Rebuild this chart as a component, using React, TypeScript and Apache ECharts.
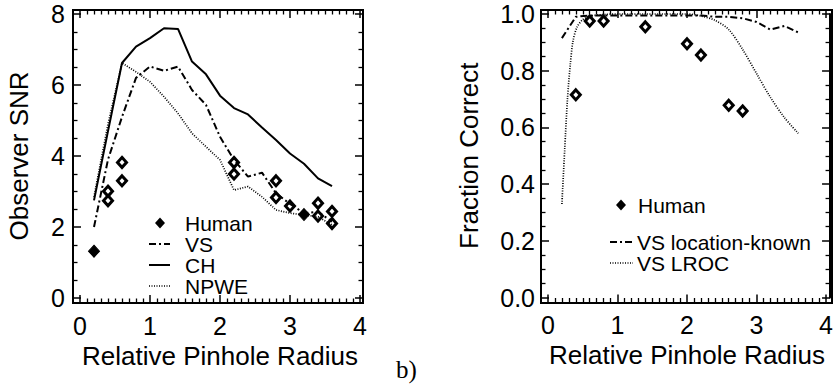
import React, { useEffect, useRef } from "react";
import * as echarts from "echarts";

// ---------- data ----------
const radius = [0.2, 0.4, 0.6, 0.8, 1.0, 1.2, 1.4, 1.6, 1.8, 2.0, 2.2, 2.4, 2.6, 2.8, 3.0, 3.2, 3.4, 3.6];
const snrCH = [2.75, 4.7, 6.62, 7.08, 7.32, 7.6, 7.58, 6.66, 6.3, 5.7, 5.35, 5.17, 4.8, 4.45, 4.07, 3.78, 3.37, 3.15];
const snrVS = [2.0, 3.9, 5.1, 6.2, 6.52, 6.4, 6.52, 5.86, 5.44, 4.54, 3.89, 3.42, 3.53, 2.95, 2.65, 2.39, 2.43, 2.15];
const snrNPWE = [2.85, 4.9, 6.62, 6.37, 6.09, 5.67, 5.2, 4.64, 4.26, 3.89, 3.04, 3.14, 2.85, 2.48, 2.39, 2.34, 2.29, 2.06];

const humanSnrX = [0.4, 0.4, 0.6, 0.6, 2.2, 2.2, 2.8, 2.8, 3.0, 3.4, 3.4, 3.6, 3.6];
const humanSnrY = [3.01, 2.74, 3.82, 3.3, 3.82, 3.49, 3.3, 2.83, 2.59, 2.67, 2.31, 2.44, 2.1];
const humanSnrSolidX = [0.2, 3.2];
const humanSnrSolidY = [1.32, 2.35];

const fcLocKnown = [0.915, 0.99, 0.995, 0.995, 0.995, 0.995, 0.995, 0.995, 0.995, 0.995, 0.995, 0.99, 0.99, 0.985, 0.972, 0.945, 0.958, 0.935];
const lrocX = [0.2, 0.24, 0.28, 0.32, 0.36, 0.42, 0.5, 0.6, 0.8, 1.0, 1.2, 1.4, 1.6, 1.8, 2.0, 2.2, 2.4, 2.6, 2.8, 3.0, 3.2, 3.4, 3.6];
const lrocY = [0.33, 0.52, 0.7, 0.82, 0.905, 0.955, 0.98, 0.992, 0.998, 1.0, 1.0, 1.0, 1.0, 1.0, 1.0, 0.993, 0.978, 0.945, 0.875, 0.79, 0.706, 0.635, 0.579];
const humanFcX = [0.4, 0.6, 0.8, 1.4, 2.0, 2.2, 2.6, 2.8];
const humanFcY = [0.715, 0.975, 0.975, 0.955, 0.895, 0.855, 0.678, 0.658];

const xTicks = [0, 4, 1];
const snrTicks = [0, 8, 2];
const fcTicks = [0, 1, 0.2];

// ---------- styling ----------
const FONT = "'Liberation Sans', Arial, Helvetica, sans-serif";
const DASHDOT = [7, 3, 2, 3];
const DOTTED = [1, 1.5];

const zip = (xs: number[], ys: number[]) => xs.map((x, i) => [x, ys[i]]);

function axisBase(min: number, max: number, interval: number, minorSplit: number) {
  return {
    type: "value",
    min,
    max,
    interval,
    axisLine: { show: true, onZero: false, lineStyle: { color: "#000", width: 2 } },
    axisTick: { show: true, inside: true, length: 8, lineStyle: { color: "#000", width: 1.5 } },
    minorTick: { show: true, splitNumber: minorSplit, length: 4.5, lineStyle: { color: "#000", width: 1.3 } },
    splitLine: { show: false },
    minorSplitLine: { show: false },
  };
}

const labelStyle = { show: true, color: "#000", fontSize: 25, fontFamily: FONT, showMinLabel: true, showMaxLabel: true };
const nameStyle = { color: "#000", fontSize: 26, fontFamily: FONT };

function legendLine(x1: number, x2: number, y: number, dash: any, width: number) {
  return {
    type: "line",
    shape: { x1, y1: y, x2, y2: y },
    style: { stroke: "#000", lineWidth: width, lineDash: dash },
  };
}
function legendDiamond(cx: number, cy: number) {
  return {
    type: "polygon",
    shape: { points: [[cx, cy - 5.5], [cx + 5, cy], [cx, cy + 5.5], [cx - 5, cy]] },
    style: { fill: "#000" },
  };
}
function legendText(x: number, y: number, text: string) {
  return {
    type: "text",
    x,
    y,
    style: { text, fill: "#000", font: `21px ${FONT}`, verticalAlign: "middle", align: "left" },
  };
}

const openDiamond = {
  symbol: "diamond",
  symbolSize: [9, 10],
  itemStyle: { color: "#fff", borderColor: "#000", borderWidth: 3, opacity: 1 },
};

export default function App() {
  const ref = useRef<HTMLDivElement>(null);
  useEffect(() => {
    if (!ref.current) return;
    const chart = echarts.init(ref.current, null, { renderer: "svg" });

    const xBottom = (gi: number) => ({
      ...axisBase(xTicks[0], xTicks[1], xTicks[2], 10),
      gridIndex: gi,
      position: "bottom",
      offset: 5,
      axisLabel: { ...labelStyle, margin: 10 },
      name: "Relative Pinhole Radius",
      nameLocation: "middle",
      nameGap: 38,
      nameTextStyle: nameStyle,
    });
    const xTop = (gi: number) => ({
      ...axisBase(xTicks[0], xTicks[1], xTicks[2], 10),
      gridIndex: gi,
      position: "top",
      offset: 4,
      axisLabel: { show: false },
    });

    const option: any = {
      animation: false,
      grid: [
        { left: 80, top: 14, width: 280, height: 284 },
        { left: 548, top: 14, width: 280, height: 283.5 },
      ],
      xAxis: [xBottom(0), xTop(0), xBottom(1), xTop(1)],
      yAxis: [
        {
          ...axisBase(snrTicks[0], snrTicks[1], snrTicks[2], 4),
          gridIndex: 0,
          position: "left",
          offset: 7,
          axisLabel: { ...labelStyle, margin: 8 },
          name: "Observer SNR",
          nameLocation: "middle",
          nameGap: 41,
          nameTextStyle: nameStyle,
        },
        {
          ...axisBase(snrTicks[0], snrTicks[1], snrTicks[2], 4),
          gridIndex: 0,
          position: "right",
          offset: 3,
          axisLabel: { show: false },
        },
        {
          ...axisBase(fcTicks[0], fcTicks[1], fcTicks[2], 4),
          gridIndex: 1,
          position: "left",
          offset: 7,
          axisLabel: { ...labelStyle, margin: 6, formatter: (v: number) => v.toFixed(1) },
          name: "Fraction Correct",
          nameLocation: "middle",
          nameGap: 59,
          nameTextStyle: nameStyle,
        },
        {
          ...axisBase(fcTicks[0], fcTicks[1], fcTicks[2], 4),
          gridIndex: 1,
          position: "right",
          offset: 4,
          axisLabel: { show: false },
        },
      ],
      series: [
        {
          name: "CH", type: "line", xAxisIndex: 0, yAxisIndex: 0, data: zip(radius, snrCH),
          symbol: "none", lineStyle: { color: "#000", width: 2 }, clip: false,
        },
        {
          name: "VS", type: "line", xAxisIndex: 0, yAxisIndex: 0, data: zip(radius, snrVS),
          symbol: "none", lineStyle: { color: "#000", width: 2, type: DASHDOT }, clip: false,
        },
        {
          name: "NPWE", type: "line", xAxisIndex: 0, yAxisIndex: 0, data: zip(radius, snrNPWE),
          symbol: "none", lineStyle: { color: "#000", width: 1.7, type: DOTTED }, clip: false,
        },
        {
          name: "Human", type: "scatter", xAxisIndex: 0, yAxisIndex: 0, data: zip(humanSnrX, humanSnrY),
          ...openDiamond,
        },
        {
          name: "Human", type: "scatter", xAxisIndex: 0, yAxisIndex: 0, data: zip(humanSnrSolidX, humanSnrSolidY),
          symbol: "diamond", symbolSize: [11, 12],
          itemStyle: { color: "#000", borderColor: "#000", borderWidth: 1, opacity: 1 },
        },
        {
          name: "VS location-known", type: "line", xAxisIndex: 2, yAxisIndex: 2, data: zip(radius, fcLocKnown),
          symbol: "none", lineStyle: { color: "#000", width: 2, type: DASHDOT }, clip: false,
        },
        {
          name: "VS LROC", type: "line", xAxisIndex: 2, yAxisIndex: 2, data: zip(lrocX, lrocY),
          symbol: "none", smooth: 0.3, lineStyle: { color: "#000", width: 1.7, type: DOTTED }, clip: false,
        },
        {
          name: "Human", type: "scatter", xAxisIndex: 2, yAxisIndex: 2, data: zip(humanFcX, humanFcY),
          ...openDiamond,
        },
      ],
      graphic: [
        // frames
        { type: "rect", shape: { x: 73, y: 10, width: 290, height: 293 }, style: { fill: "none", stroke: "#000", lineWidth: 2 }, z: 10 },
        { type: "rect", shape: { x: 541, y: 10, width: 291, height: 293 }, style: { fill: "none", stroke: "#000", lineWidth: 2 }, z: 10 },
        // left legend
        legendDiamond(160, 223),
        legendText(185, 223, "Human"),
        legendLine(149, 170, 244, DASHDOT, 2),
        legendText(185, 244, "VS"),
        legendLine(149, 170, 265, null, 2),
        legendText(185, 265, "CH"),
        legendLine(149, 170, 286, DOTTED, 1.7),
        legendText(185, 286, "NPWE"),
        // right legend
        legendDiamond(621, 205),
        legendText(638, 205, "Human"),
        legendLine(610, 633, 242, DASHDOT, 2),
        legendText(637, 242, "VS location-known"),
        legendLine(610, 633, 263, DOTTED, 1.7),
        legendText(637, 263, "VS LROC"),
        // panel label
        {
          type: "text", x: 396, y: 369,
          style: { text: "b)", fill: "#000", font: "25px 'Liberation Serif', 'Times New Roman', serif", verticalAlign: "middle", align: "left" },
        },
      ],
    };
    chart.setOption(option);
    return () => chart.dispose();
  }, []);
  return (
    <div
      ref={ref}
      style={{ position: "fixed", left: 0, top: 0, width: 836, height: 387, background: "#fff" }}
    />
  );
}
